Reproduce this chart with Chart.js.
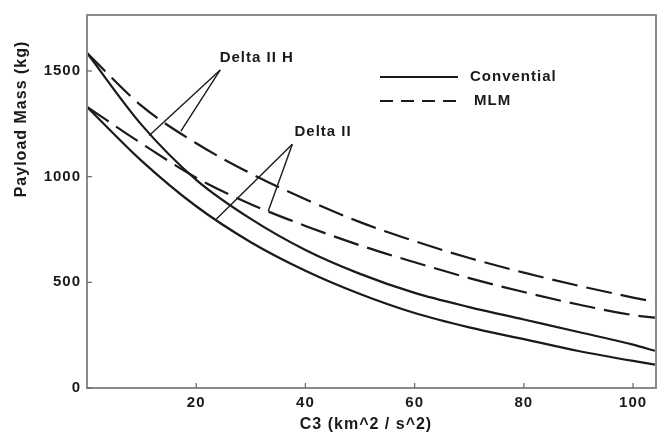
<!DOCTYPE html>
<html>
<head>
<meta charset="utf-8">
<script src="https://cdn.jsdelivr.net/npm/chart.js@4/dist/chart.umd.min.js"></script>
<style>
html, body { margin: 0; padding: 0; background: #fff; }
#wrap { width: 665px; height: 439px; }
</style>
</head>
<body>
<div id="wrap"><canvas id="grafico" width="665" height="439"></canvas></div>
<script>
// DADOS
var c3 = [0, 10, 20, 30, 40, 50, 60, 70, 80, 90, 100, 104];
var deltaIIH_conv = [1585, 1245, 985, 800, 653, 540, 450, 383, 324, 265, 205, 176];
var deltaII_conv = [1330, 1075, 860, 690, 555, 445, 355, 287, 231, 175, 128, 111];
var deltaIIH_mlm = [1585, 1335, 1158, 1015, 893, 785, 695, 615, 546, 484, 428, 407];
var deltaII_mlm = [1330, 1157, 995, 870, 767, 675, 595, 520, 454, 395, 345, 333];
var xTicks = [20, 40, 60, 80, 100];
var yTicks = [0, 500, 1000, 1500];

var FONT = '"Liberation Sans", Arial, sans-serif';
var INK = '#1a1a1a';
var DASH = [26, 9];

function pts(vals) {
  return c3.map(function (x, i) { return { x: x, y: vals[i] }; });
}

function serie(label, vals, dashed) {
  return {
    label: label,
    data: pts(vals),
    borderColor: INK,
    borderWidth: 2.2,
    borderDash: dashed ? DASH : [],
    pointRadius: 0,
    fill: false,
    cubicInterpolationMode: 'monotone'
  };
}

// letter spacing for all text, frame, inner ticks, legend and labels
var extras = {
  id: 'extras',
  beforeDraw: function (chart) {
    chart.ctx.letterSpacing = '1px';
  },
  afterDraw: function (chart) {
    var ctx = chart.ctx, a = chart.chartArea;
    var xs = chart.scales.x, ys = chart.scales.y;
    ctx.save();
    ctx.letterSpacing = '1px';

    // frame
    ctx.strokeStyle = '#8a8a8a';
    ctx.lineWidth = 2;
    ctx.strokeRect(a.left, a.top, a.right - a.left, a.bottom - a.top);

    // inner ticks
    ctx.strokeStyle = '#666';
    ctx.lineWidth = 1.2;
    xTicks.forEach(function (v) {
      var px = xs.getPixelForValue(v);
      ctx.beginPath(); ctx.moveTo(px, a.bottom); ctx.lineTo(px, a.bottom - 5); ctx.stroke();
    });
    yTicks.forEach(function (v) {
      var py = ys.getPixelForValue(v);
      ctx.beginPath(); ctx.moveTo(a.left, py); ctx.lineTo(a.left + 5, py); ctx.stroke();
    });

    // axis titles
    ctx.fillStyle = INK;
    ctx.font = 'bold 16px ' + FONT;
    ctx.textAlign = 'center';
    ctx.textBaseline = 'middle';
    ctx.fillText('C3 (km^2 / s^2)', 366, 425);
    ctx.save();
    ctx.translate(22, 119);
    ctx.rotate(-Math.PI / 2);
    ctx.fillText('Payload Mass (kg)', 0, 0);
    ctx.restore();

    // legend
    ctx.font = 'bold 15px ' + FONT;
    ctx.textAlign = 'left';
    ctx.strokeStyle = INK;
    ctx.lineWidth = 2;
    ctx.beginPath(); ctx.moveTo(380, 77); ctx.lineTo(458, 77); ctx.stroke();
    ctx.fillText('Convential', 470, 77);
    ctx.setLineDash([13, 8]);
    ctx.beginPath(); ctx.moveTo(380, 101); ctx.lineTo(462, 101); ctx.stroke();
    ctx.setLineDash([]);
    ctx.fillText('MLM', 474, 101);

    // curve labels with leader lines (data units)
    function P(x, y) { return [xs.getPixelForValue(x), ys.getPixelForValue(y)]; }
    function leader(from, to) {
      var p = P(from[0], from[1]), q = P(to[0], to[1]);
      ctx.beginPath(); ctx.moveTo(p[0], p[1]); ctx.lineTo(q[0], q[1]); ctx.stroke();
    }
    ctx.lineWidth = 1.4;
    var tH = P(24.3, 1560);
    ctx.fillText('Delta II H', tH[0], tH[1]);
    leader([24.4, 1505], [11.4, 1195]);
    leader([24.4, 1505], [17.2, 1215]);
    var tD = P(38.0, 1210);
    ctx.fillText('Delta II', tD[0], tD[1]);
    leader([37.6, 1153], [23.7, 800]);
    leader([37.6, 1153], [33.2, 838]);
    ctx.restore();
  }
};

function plain(v) { return String(v); }

// GRÁFICO
new Chart(document.getElementById('grafico'), {
  type: 'line',
  data: {
    datasets: [
      serie('Delta II H Convential', deltaIIH_conv, false),
      serie('Delta II Convential', deltaII_conv, false),
      serie('Delta II H MLM', deltaIIH_mlm, true),
      serie('Delta II MLM', deltaII_mlm, true)
    ]
  },
  options: {
    responsive: false,
    animation: false,
    layout: { padding: { left: 0, top: 7, right: 9, bottom: 0 } },
    plugins: { legend: { display: false }, tooltip: { enabled: false } },
    scales: {
      x: {
        type: 'linear',
        min: 0,
        max: 104.2,
        afterFit: function (s) { s.height = 51; },
        afterBuildTicks: function (s) { s.ticks = xTicks.map(function (v) { return { value: v }; }); },
        grid: { display: false, drawTicks: false },
        border: { display: false },
        ticks: { padding: 6, color: INK, callback: plain, font: { family: FONT, size: 15, weight: 'bold' }, maxRotation: 0 }
      },
      y: {
        type: 'linear',
        min: 0,
        max: 1765,
        afterFit: function (s) { s.width = 87; },
        afterBuildTicks: function (s) { s.ticks = yTicks.map(function (v) { return { value: v }; }); },
        grid: { display: false, drawTicks: false },
        border: { display: false },
        ticks: { padding: 6, color: INK, callback: plain, font: { family: FONT, size: 15, weight: 'bold' } }
      }
    }
  },
  plugins: [extras]
});
</script>
</body>
</html>
